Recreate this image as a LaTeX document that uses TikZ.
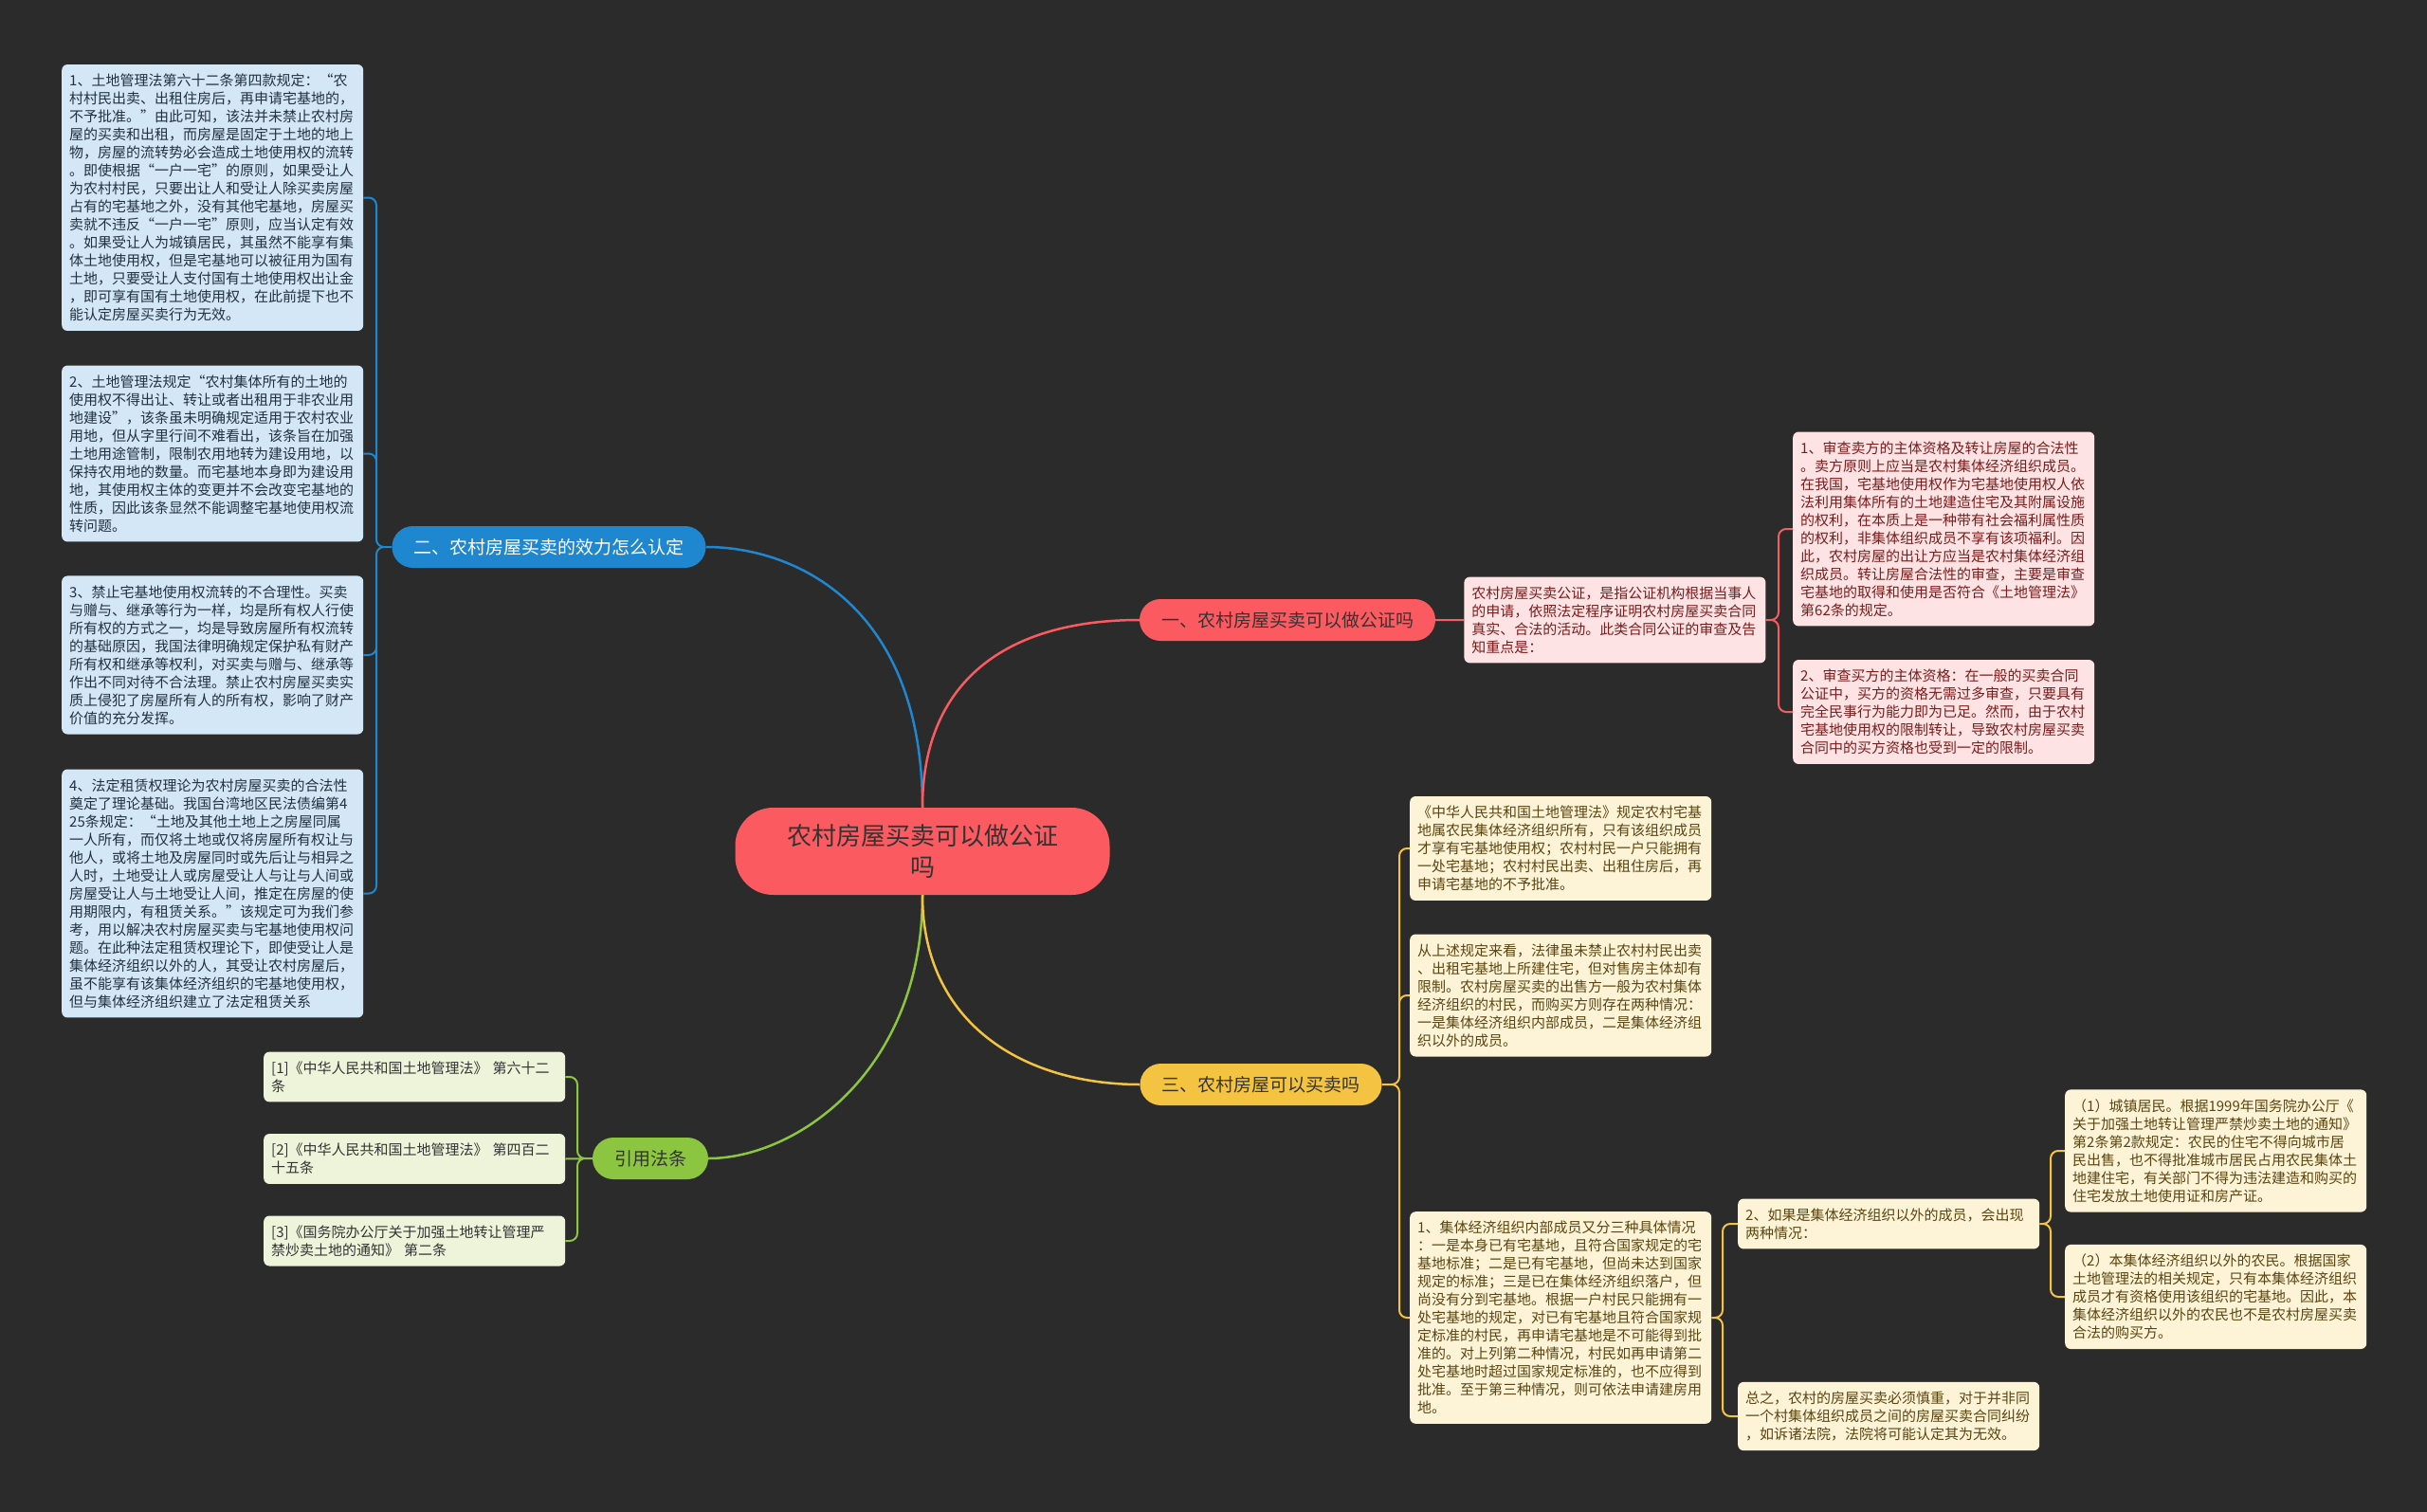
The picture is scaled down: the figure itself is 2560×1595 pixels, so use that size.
\documentclass[tikz,border=0pt]{standalone}
\usepackage{fontspec}
\setmainfont{Noto Sans CJK SC}
\usetikzlibrary{positioning,calc}
\definecolor{bgdark}{HTML}{2B2B2B}
\definecolor{rootred}{HTML}{FB5B60}
\definecolor{redline}{HTML}{EC5E62}
\definecolor{redleaf}{HTML}{FDE3E3}
\definecolor{redtext}{HTML}{7A1C1C}
\definecolor{blueline}{HTML}{1F87CF}
\definecolor{blueleaf}{HTML}{D3E7F6}
\definecolor{bluetext}{HTML}{22313F}
\definecolor{yelline}{HTML}{F4C342}
\definecolor{yelleaf}{HTML}{FDF4D7}
\definecolor{yeltext}{HTML}{5A4510}
\definecolor{grnline}{HTML}{8CC540}
\definecolor{grnleaf}{HTML}{EDF4DA}
\definecolor{grntext}{HTML}{333333}

\begin{document}
\begin{tikzpicture}[x=1pt,y=-1pt,
				leaf/.style={rounded corners=6pt,inner xsep=8pt,inner ysep=10pt,text width=302pt,align=left,anchor=west,font=\fontsize{15}{19}\selectfont},
				bleaf/.style={leaf,fill=blueleaf,text=bluetext},
				rleaf/.style={leaf,fill=redleaf,text=redtext},
				yleaf/.style={leaf,fill=yelleaf,text=yeltext},
				gleaf/.style={leaf,fill=grnleaf,text=grntext},
				topic/.style={rounded corners=22pt,minimum height=44pt,inner xsep=23pt,font=\fontsize{19}{22}\selectfont},
				trunk/.style={line width=2.5pt},
				link/.style={line width=2pt,rounded corners=8pt}]
				\fill[bgdark] (0,0) rectangle (2560,1595);
				\useasboundingbox (0,0) rectangle (2560,1595);

				\node[fill=rootred,rounded corners=40pt,minimum width=395pt,minimum height=92pt,text width=300pt,align=center,
					font=\fontsize{26}{33}\selectfont,text=black!80] (ROOT) at (973,898) {农村房屋买卖可以做公证\\吗};
				\node[topic,fill=rootred,text=black!80] (B1) at (1358,654) {一、农村房屋买卖可以做公证吗};
				\node[topic,fill=blueline,text=white]   (B2) at (579,577)  {二、农村房屋买卖的效力怎么认定};
				\node[topic,fill=yelline,text=black!80] (B3) at (1330,1144) {三、农村房屋可以买卖吗};
				\node[topic,fill=grnline,text=black!80] (B4) at (686,1222) {引用法条};

				\node[bleaf] (L1) at (65,208.5) {1、土地管理法第六十二条第四款规定：“农\\村村民出卖、出租住房后，再申请宅基地的，\\不予批准。”由此可知，该法并未禁止农村房\\屋的买卖和出租，而房屋是固定于土地的地上\\物，房屋的流转势必会造成土地使用权的流转\\。即使根据“一户一宅”的原则，如果受让人\\为农村村民，只要出让人和受让人除买卖房屋\\占有的宅基地之外，没有其他宅基地，房屋买\\卖就不违反“一户一宅”原则，应当认定有效\\。如果受让人为城镇居民，其虽然不能享有集\\体土地使用权，但是宅基地可以被征用为国有\\土地，只要受让人支付国有土地使用权出让金\\，即可享有国有土地使用权，在此前提下也不\\能认定房屋买卖行为无效。};
				\node[bleaf] (L2) at (65,478.5) {2、土地管理法规定“农村集体所有的土地的\\使用权不得出让、转让或者出租用于非农业用\\地建设”，该条虽未明确规定适用于农村农业\\用地，但从字里行间不难看出，该条旨在加强\\土地用途管制，限制农用地转为建设用地，以\\保持农用地的数量。而宅基地本身即为建设用\\地，其使用权主体的变更并不会改变宅基地的\\性质，因此该条显然不能调整宅基地使用权流\\转问题。};
				\node[bleaf] (L3) at (65,691) {3、禁止宅基地使用权流转的不合理性。买卖\\与赠与、继承等行为一样，均是所有权人行使\\所有权的方式之一，均是导致房屋所有权流转\\的基础原因，我国法律明确规定保护私有财产\\所有权和继承等权利，对买卖与赠与、继承等\\作出不同对待不合法理。禁止农村房屋买卖实\\质上侵犯了房屋所有人的所有权，影响了财产\\价值的充分发挥。};
				\node[bleaf] (L4) at (65,942.5) {4、法定租赁权理论为农村房屋买卖的合法性\\奠定了理论基础。我国台湾地区民法债编第4\\25条规定：“土地及其他土地上之房屋同属\\一人所有，而仅将土地或仅将房屋所有权让与\\他人，或将土地及房屋同时或先后让与相异之\\人时，土地受让人或房屋受让人与让与人间或\\房屋受让人与土地受让人间，推定在房屋的使\\用期限内，有租赁关系。”该规定可为我们参\\考，用以解决农村房屋买卖与宅基地使用权问\\题。在此种法定租赁权理论下，即使受让人是\\集体经济组织以外的人，其受让农村房屋后，\\虽不能享有该集体经济组织的宅基地使用权，\\但与集体经济组织建立了法定租赁关系};

				\node[rleaf] (R0) [right=30pt of B1] {农村房屋买卖公证，是指公证机构根据当事人\\的申请，依照法定程序证明农村房屋买卖合同\\真实、合法的活动。此类合同公证的审查及告\\知重点是：};
				\node[rleaf] (R1) at (1891,558) {1、审查卖方的主体资格及转让房屋的合法性\\。卖方原则上应当是农村集体经济组织成员。\\在我国，宅基地使用权作为宅基地使用权人依\\法利用集体所有的土地建造住宅及其附属设施\\的权利，在本质上是一种带有社会福利属性质\\的权利，非集体组织成员不享有该项福利。因\\此，农村房屋的出让方应当是农村集体经济组\\织成员。转让房屋合法性的审查，主要是审查\\宅基地的取得和使用是否符合《土地管理法》\\第62条的规定。};
				\node[rleaf] (R2) at (1891,751) {2、审查买方的主体资格：在一般的买卖合同\\公证中，买方的资格无需过多审查，只要具有\\完全民事行为能力即为已足。然而，由于农村\\宅基地使用权的限制转让，导致农村房屋买卖\\合同中的买方资格也受到一定的限制。};

				\node[yleaf] (Y1) at (1487,895) {《中华人民共和国土地管理法》规定农村宅基\\地属农民集体经济组织所有，只有该组织成员\\才享有宅基地使用权；农村村民一户只能拥有\\一处宅基地；农村村民出卖、出租住房后，再\\申请宅基地的不予批准。};
				\node[yleaf] (Y2) at (1487,1050) {从上述规定来看，法律虽未禁止农村村民出卖\\、出租宅基地上所建住宅，但对售房主体却有\\限制。农村房屋买卖的出售方一般为农村集体\\经济组织的村民，而购买方则存在两种情况：\\一是集体经济组织内部成员，二是集体经济组\\织以外的成员。};
				\node[yleaf] (Y3) at (1487,1390) {1、集体经济组织内部成员又分三种具体情况\\：一是本身已有宅基地，且符合国家规定的宅\\基地标准；二是已有宅基地，但尚未达到国家\\规定的标准；三是已在集体经济组织落户，但\\尚没有分到宅基地。根据一户村民只能拥有一\\处宅基地的规定，对已有宅基地且符合国家规\\定标准的村民，再申请宅基地是不可能得到批\\准的。对上列第二种情况，村民如再申请第二\\处宅基地时超过国家规定标准的，也不应得到\\批准。至于第三种情况，则可依法申请建房用\\地。};
				\node[yleaf] (Y3a) at (1833,1291) {2、如果是集体经济组织以外的成员，会出现\\两种情况：};
				\node[yleaf] (Y3b) at (1833,1494) {总之，农村的房屋买卖必须慎重，对于并非同\\一个村集体组织成员之间的房屋买卖合同纠纷\\，如诉诸法院，法院将可能认定其为无效。};
				\node[yleaf] (Y3a1) at (2178,1214) {（1）城镇居民。根据1999年国务院办公厅《\\关于加强土地转让管理严禁炒卖土地的通知》\\第2条第2款规定：农民的住宅不得向城市居\\民出售，也不得批准城市居民占用农民集体土\\地建住宅，有关部门不得为违法建造和购买的\\住宅发放土地使用证和房产证。};
				\node[yleaf] (Y3a2) at (2178,1368) {（2）本集体经济组织以外的农民。根据国家\\土地管理法的相关规定，只有本集体经济组织\\成员才有资格使用该组织的宅基地。因此，本\\集体经济组织以外的农民也不是农村房屋买卖\\合法的购买方。};

				\node[gleaf] (C1) at (278,1136) {[1]《中华人民共和国土地管理法》 第六十二\\条};
				\node[gleaf] (C2) at (278,1222.5) {[2]《中华人民共和国土地管理法》 第四百二\\十五条};
				\node[gleaf] (C3) at (278,1309) {[3]《国务院办公厅关于加强土地转让管理严\\禁炒卖土地的通知》 第二条};

				\coordinate (HB)   at (397,577);
				\coordinate (HR)   at (1876,654);
				\coordinate (HY)   at (1476,1144);
				\coordinate (HY3)  at (1817,1390);
				\coordinate (HY3a) at (2163,1291);
				\coordinate (HG)   at (609,1222);

				\draw[trunk,blueline] (ROOT.north) .. controls (973,640) and (840,577) .. (B2.east);
				\draw[trunk,rootred]  (ROOT.north) .. controls (973,720) and (1060,654) .. (B1.west);
				\draw[trunk,grnline]  (ROOT.south) .. controls (973,1130) and (840,1222) .. (B4.east);
				\draw[trunk,yelline]  (ROOT.south) .. controls (973,1080) and (1080,1144) .. (B3.west);

				\draw[link,blueline] (B2.west) -- (HB) |- (L1.east) (B2.west) -- (HB) |- (L2.east)
					(B2.west) -- (HB) |- (L3.east) (B2.west) -- (HB) |- (L4.east);
				\draw[link,rootred] (B1.east) -- (R0.west) (R0.east) -- (HR) |- (R1.west) (R0.east) -- (HR) |- (R2.west);
				\draw[link,yelline] (B3.east) -- (HY) |- (Y1.west) (B3.east) -- (HY) |- (Y2.west) (B3.east) -- (HY) |- (Y3.west);
				\draw[link,yelline] (Y3.east) -- (HY3) |- (Y3a.west) (Y3.east) -- (HY3) |- (Y3b.west);
				\draw[link,yelline] (Y3a.east) -- (HY3a) |- (Y3a1.west) (Y3a.east) -- (HY3a) |- (Y3a2.west);
				\draw[link,grnline] (B4.west) -- (HG) |- (C1.east) (B4.west) -- (C2.east) (B4.west) -- (HG) |- (C3.east);
			\end{tikzpicture}
\end{document}
